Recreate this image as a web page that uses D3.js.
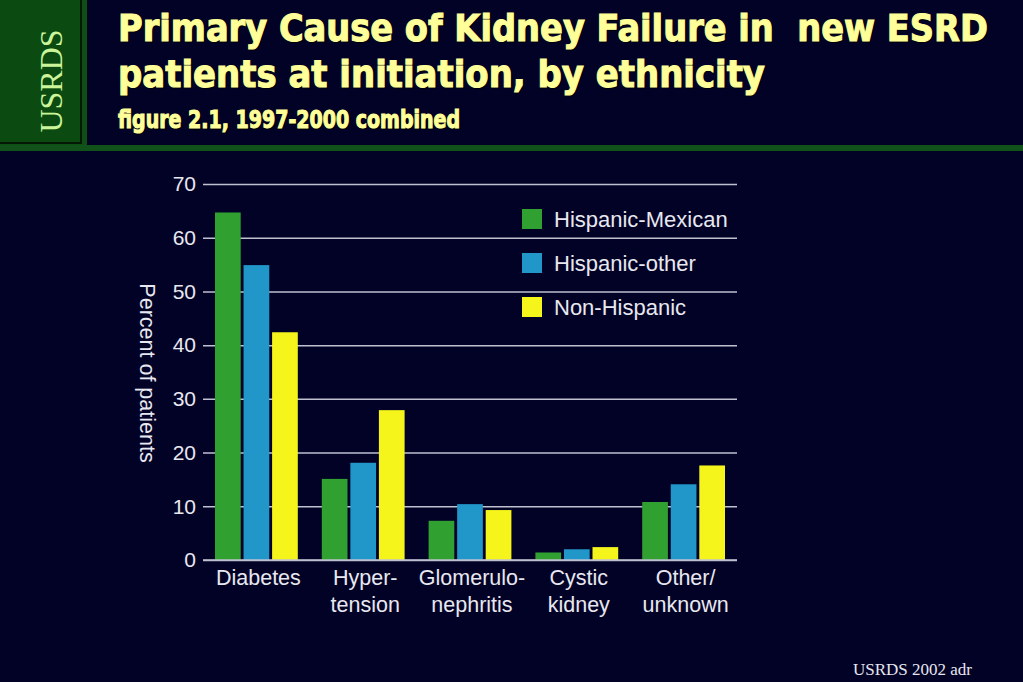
<!DOCTYPE html>
<html>
<head>
<meta charset="utf-8">
<script src="https://cdn.jsdelivr.net/npm/d3@7"></script>
<style>
  html, body { margin: 0; padding: 0; background: #020226; overflow: hidden; }
  svg { display: block; }
</style>
</head>
<body>
<script>
// ---- data ----
const categories = ["Diabetes", "Hypertension", "Glomerulonephritis", "Cystic kidney", "Other/unknown"];
const categoryLabels = [["Diabetes"], ["Hyper-", "tension"], ["Glomerulo-", "nephritis"], ["Cystic", "kidney"], ["Other/", "unknown"]];
const seriesNames = ["Hispanic-Mexican", "Hispanic-other", "Non-Hispanic"];
const hispanicMexican = [64.7, 15.1, 7.3, 1.4, 10.8];
const hispanicOther = [54.9, 18.1, 10.4, 2.0, 14.1];
const nonHispanic = [42.4, 27.9, 9.3, 2.4, 17.6];
const yTicks = [0, 10, 20, 30, 40, 50, 60, 70];
const titleLines = ["Primary Cause of Kidney Failure in  new ESRD", "patients at initiation, by ethnicity"];
const subtitle = "figure 2.1, 1997-2000 combined";
const yLabel = "Percent of patients";
const sideLabel = "USRDS";
const footer = "USRDS 2002 adr";

const seriesValues = [hispanicMexican, hispanicOther, nonHispanic];
const colors = ["#30a030", "#2196c9", "#f5f51c"];

const W = 1023, H = 682;
const svg = d3.select("body").append("svg").attr("width", W).attr("height", H);

svg.append("rect").attr("width", W).attr("height", H).attr("fill", "#020226");

// ---- header frame ----
svg.append("rect").attr("x", 0).attr("y", 0).attr("width", 87).attr("height", 151).attr("fill", "#0e4f14");
svg.append("rect").attr("x", 0).attr("y", 145).attr("width", W).attr("height", 6).attr("fill", "#11521a");
svg.append("rect").attr("x", 80).attr("y", 0).attr("width", 2).attr("height", 144).attr("fill", "#031806");
svg.append("rect").attr("x", 0).attr("y", 142).attr("width", 82).attr("height", 2).attr("fill", "#031806");
svg.append("rect").attr("x", 0).attr("y", 0).attr("width", 80).attr("height", 142).attr("fill", "#0b4a10");

svg.append("text")
  .attr("transform", "translate(62,81) rotate(-90)")
  .attr("text-anchor", "middle")
  .attr("font-family", "'Liberation Serif', 'DejaVu Serif', serif")
  .attr("font-size", 32)
  .attr("fill", "#ccf59a")
  .text(sideLabel);

const titleFont = "'Liberation Sans Narrow', 'DejaVu Sans Condensed', 'Liberation Sans', sans-serif";
const titleSpecs = [
  {text: titleLines[0], y: 41, size: 38, len: 870},
  {text: titleLines[1], y: 87, size: 38, len: 647},
  {text: subtitle, y: 128, size: 24, len: 342}
];
titleSpecs.forEach(t => {
  svg.append("text")
    .attr("x", 119).attr("y", t.y + 1)
    .attr("font-family", titleFont)
    .attr("font-weight", "bold")
    .attr("font-size", t.size)
    .attr("fill", "#000008")
    .attr("stroke", "#000008").attr("stroke-width", 1)
    .attr("textLength", t.len)
    .attr("lengthAdjust", "spacingAndGlyphs")
    .style("white-space", "pre")
    .text(t.text);
  svg.append("text")
    .attr("x", 118).attr("y", t.y)
    .attr("font-family", titleFont)
    .attr("font-weight", "bold")
    .attr("font-size", t.size)
    .attr("fill", "#ffff99")
    .attr("stroke", "#ffff99").attr("stroke-width", 1)
    .attr("textLength", t.len)
    .attr("lengthAdjust", "spacingAndGlyphs")
    .style("white-space", "pre")
    .text(t.text);
});

// ---- chart ----
const plot = {left: 203, right: 737, top: 184, bottom: 560};
const x0 = d3.scaleBand().domain(categories).range([plot.left, plot.right]).paddingInner(0).paddingOuter(0);
const x1 = d3.scaleBand().domain(seriesNames).range([12, x0.bandwidth() - 12]).paddingInner(0.1).paddingOuter(0);
const y = d3.scaleLinear().domain([0, 70]).range([plot.bottom, plot.top]);

const font = "'Liberation Sans', Arial, Helvetica, sans-serif";

const yAxis = d3.axisLeft(y).tickValues(yTicks).tickSize(-(plot.right - plot.left)).tickPadding(8);
const gy = svg.append("g").attr("transform", `translate(${plot.left},0)`).call(yAxis);
gy.select(".domain").remove();
gy.selectAll(".tick line").attr("stroke", "#bfc0d0").attr("stroke-width", 1.5);
gy.selectAll(".tick text").attr("font-family", font).attr("font-size", 21).attr("fill", "#e8e8f0").attr("x", -7);

const groups = svg.append("g").selectAll("g").data(categories).join("g")
  .attr("transform", d => `translate(${x0(d)},0)`);
groups.selectAll("rect").data((d, i) => seriesNames.map((s, j) => ({s, v: seriesValues[j][i], c: colors[j]})))
  .join("rect")
  .attr("x", d => x1(d.s))
  .attr("width", x1.bandwidth())
  .attr("y", d => y(d.v))
  .attr("height", d => y(0) - y(d.v))
  .attr("fill", d => d.c);

// baseline redraw above bars
svg.append("line").attr("x1", plot.left).attr("x2", plot.right).attr("y1", y(0)).attr("y2", y(0))
  .attr("stroke", "#bfc0d0").attr("stroke-width", 1.5);

// x labels
const xl = svg.append("g").selectAll("text").data(categories).join("text")
  .attr("x", d => x0(d) + x0.bandwidth() / 2 + 2)
  .attr("y", 585)
  .attr("text-anchor", "middle")
  .attr("font-family", font).attr("font-size", 21.5).attr("fill", "#e8e8f0");
xl.each(function(d, i) {
  const t = d3.select(this);
  categoryLabels[i].forEach((line, k) => {
    t.append("tspan").attr("x", x0(d) + x0.bandwidth() / 2 + 2).attr("dy", k === 0 ? 0 : 27).text(line);
  });
});

// y label
svg.append("text")
  .attr("transform", "translate(140,373) rotate(90)")
  .attr("text-anchor", "middle")
  .attr("font-family", font).attr("font-size", 21.5).attr("fill", "#e8e8f0")
  .text(yLabel);

// legend
const lg = svg.append("g").selectAll("g").data(seriesNames).join("g")
  .attr("transform", (d, i) => `translate(522,${209 + i * 44})`);
lg.append("rect").attr("width", 20).attr("height", 20).attr("fill", (d, i) => colors[i]);
lg.append("text").attr("x", 32).attr("y", 18)
  .attr("font-family", font).attr("font-size", 22).attr("fill", "#e8e8f0")
  .text(d => d);

// footer
svg.append("text").attr("x", 853).attr("y", 675)
  .attr("font-family", "'Liberation Serif', 'DejaVu Serif', serif")
  .attr("font-size", 17).attr("fill", "#e6e6f0")
  .text(footer);
</script>
</body>
</html>
